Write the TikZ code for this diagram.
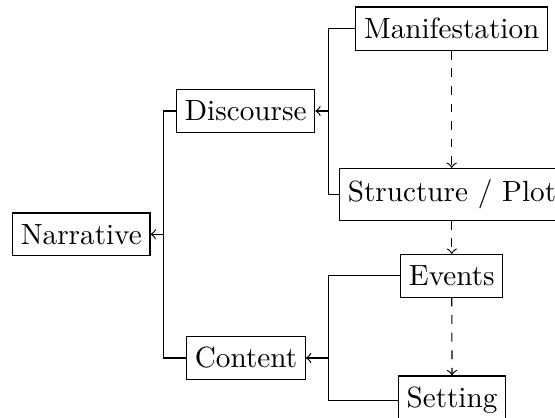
\documentclass[tikz,border=0pt]{standalone}
\begin{document}
\begin{tikzpicture}[x=0.3425pt, y=-0.3425pt,
  box/.style={draw, inner xsep=2.8pt, inner ysep=3.85pt},
  link/.style={<-},
  seq/.style={->, dashed}]
\useasboundingbox (0,0) rectangle (555,418);
% tree nodes
\node[box] (nar) at (81.3,234.3) {Narrative};
\node[box] (dis) at (245.7,111) {Discourse};
\node[box] (con) at (246,358) {Content};
\node[box] (man) at (451.7,28.7) {Manifestation};
\node[box] (str) at (452,194.4) {Structure / Plot};
\node[box] (eve) at (451.8,275.8) {Events};
\node[box] (set) at (452,400.5) {Setting};
% columns of the forks
\coordinate (j1) at (163.5,0);
\coordinate (j2) at (328.3,0);
% forked edges towards the parents
\draw[link] (nar.east) -- (nar.east -| j1) |- (dis.west);
\draw (nar.east -| j1) |- (con.west);
\draw[link] (dis.east) -- (dis.east -| j2) |- (man.west);
\draw (dis.east -| j2) |- (str.west);
\draw[link] (con.east) -- (con.east -| j2) |- (eve.west);
\draw (con.east -| j2) |- (set.west);
% dashed sequence
\draw[seq] (man.south) -- (man.south |- str.north);
\draw[seq] (eve.north |- str.south) -- (eve.north);
\draw[seq] (eve.south) -- (set.north);
\end{tikzpicture}
\end{document}
